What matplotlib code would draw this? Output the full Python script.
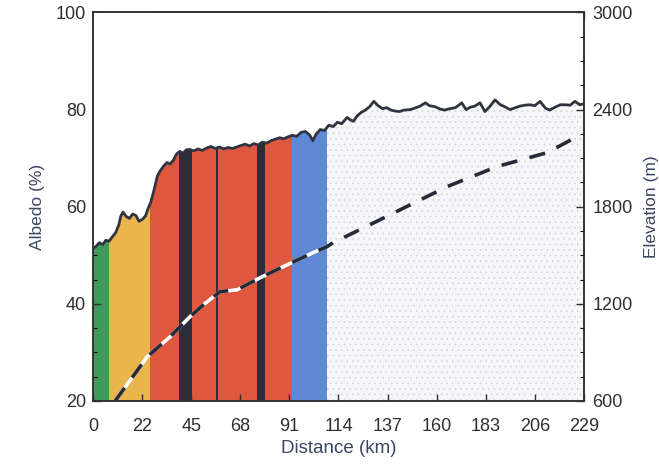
import numpy as np
import matplotlib.pyplot as plt
from matplotlib.ticker import MultipleLocator

plt.rcParams['font.family'] = ['Liberation Sans', 'DejaVu Sans']
plt.rcParams['hatch.linewidth'] = 0.5
plt.rcParams['hatch.color'] = '#d3d5da'

# albedo along the traverse (km, %)
albedo_km = [0, 1.5, 3, 4.5, 6, 7.5, 9, 10.5, 12, 13, 14, 15.5, 17, 18.5, 20, 21.5,
             23, 24.5, 25.5, 27, 28.5, 30, 31.5, 33, 34.5, 36, 37.5, 39, 40.5, 42,
             43.5, 45, 47, 49, 51, 53, 55, 57, 59, 61, 63, 65, 67, 69, 71, 73, 75,
             77, 79, 81, 83, 85, 87, 89, 91, 93, 95, 97, 99, 101, 102.5, 104, 106,
             108, 110, 112, 114, 116, 118.5, 120, 121.5, 123, 125, 127, 129, 131,
             133, 135, 137, 139, 141, 143, 145, 148, 150, 152.5, 155, 157, 159.5,
             162, 164, 166.5, 169, 172, 174, 176, 178, 180.5, 182.8, 185, 187.5,
             190, 192, 194.5, 197, 199, 201, 204, 206, 208.5, 211, 213, 215.5, 218,
             220.5, 222.5, 224.8, 227, 229]
albedo = [51.4, 51.9, 52.6, 52.2, 53.1, 52.9, 53.8, 54.6, 56.2, 58.1, 58.9, 58.0,
          57.6, 58.5, 58.2, 57.0, 57.4, 58.1, 59.4, 61.0, 63.5, 66.3, 67.5, 68.4,
          69.1, 68.8, 69.6, 70.9, 71.4, 71.0, 71.7, 71.8, 71.5, 71.9, 71.6, 72.1,
          72.4, 72.0, 72.3, 71.9, 72.2, 72.0, 72.3, 72.6, 72.9, 72.5, 73.0, 72.7,
          73.3, 73.1, 73.6, 73.9, 74.2, 74.0, 74.4, 74.7, 74.5, 75.3, 75.5, 74.8,
          73.6, 74.9, 75.9, 75.7, 76.8, 76.5, 77.4, 77.1, 78.4, 77.9, 77.6, 78.6,
          79.4, 79.9, 80.6, 81.7, 80.8, 80.2, 80.4, 79.9, 79.7, 79.6, 79.9, 80.0,
          80.3, 80.7, 81.4, 80.8, 80.6, 80.1, 79.9, 80.2, 80.4, 81.4, 80.0, 80.5,
          80.7, 81.4, 79.6, 80.6, 82.0, 81.0, 80.6, 80.0, 80.4, 80.7, 80.9, 81.0,
          80.8, 81.7, 80.3, 79.9, 80.5, 81.0, 81.0, 80.9, 81.7, 81.0, 81.2]

# surface elevation (km, m)
elev_km = [10.3, 18, 25.2, 35.9, 45.2, 52, 59.2, 67.2, 77.9, 90.5, 102.6, 109.1,
           111.9, 133.9, 165.1, 188.4, 211.8, 224.9]
elev_m = [600, 740, 872, 996, 1120, 1200, 1275, 1287, 1361, 1441, 1516, 1553,
          1577, 1720, 1924, 2048, 2134, 2227]

# surface zones (start km, end km, colour); the last one is stippled
zone_start = [0, 7.5, 26.5, 92.7, 109]
zone_end = [7.5, 26.5, 92.7, 109, 229]
zone_color = ['#3f9a5c', '#e9b54c', '#df573e', '#5f88d6', '#f7f7f9']

# dark bands inside the red zone
band_start = [40.1, 76.4]
band_end = [46.0, 80.2]
band_line = 58.0

xticks = np.linspace(0, 229, 11)
xtick_labels = ['0', '22', '45', '68', '91', '114', '137', '160', '183', '206', '229']

text_col = '#2e2e33'
label_col = '#3b4663'

fig = plt.figure(figsize=(6.59, 4.66), dpi=100)
ax = fig.add_axes([0.1411, 0.1395, 0.7451, 0.8337])

for i, (s, e, c) in enumerate(zip(zone_start, zone_end, zone_color)):
    if i == len(zone_color) - 1:
        ax.axvspan(s, e, facecolor=c, hatch='...', lw=0, zorder=1)
    else:
        ax.axvspan(s, e, facecolor=c, lw=0, zorder=1)
for s, e in zip(band_start, band_end):
    ax.axvspan(s, e, facecolor='#2c2d38', lw=0, zorder=1.5)
ax.axvline(band_line, color='#2c2d38', lw=1.4, zorder=1.5)

# blank out everything above the albedo curve
ax.fill_between(albedo_km, albedo, 100, facecolor='white', lw=0, zorder=2)
ax.plot(albedo_km, albedo, color='#2f3440', lw=2.0, zorder=3)

ax.set_xlim(0, 229)
ax.set_ylim(20, 100)
ax.set_xticks(xticks)
ax.set_xticklabels(xtick_labels)
ax.yaxis.set_major_locator(MultipleLocator(20))
ax.yaxis.set_minor_locator(MultipleLocator(5))
ax.tick_params(axis='x', direction='in', length=5, width=1, pad=12, top=True,
               labelsize=13, colors=text_col)
ax.tick_params(axis='y', which='major', direction='in', length=6, width=1, pad=5,
               labelsize=13, colors=text_col)
ax.tick_params(axis='y', which='minor', direction='in', length=3, width=0.8)
ax.set_xlabel('Distance (km)', fontsize=13.5, color=label_col, labelpad=4)
ax.set_ylabel('Albedo (%)', fontsize=12.5, color=label_col, labelpad=8)
for sp in ax.spines.values():
    sp.set_color('#2e2e33')
    sp.set_linewidth(1.1)

ax2 = ax.twinx()
ax2.set_ylim(600, 3000)
ax2.yaxis.set_major_locator(MultipleLocator(600))
ax2.yaxis.set_minor_locator(MultipleLocator(150))
ax2.tick_params(axis='y', which='major', direction='in', length=6, width=1, pad=6,
                labelsize=13, colors=text_col)
ax2.tick_params(axis='y', which='minor', direction='in', length=3, width=0.8)
ax2.set_ylabel('Elevation (m)', fontsize=12.5, color=label_col, labelpad=8)
for sp in ax2.spines.values():
    sp.set_color('#2e2e33')
    sp.set_linewidth(1.1)

# elevation: white underlay over the coloured zones, dark dashes on top
ek = np.array(elev_km)
em = np.array(elev_m)
inside = ek <= 109.1
ax2.plot(ek[inside], em[inside], color='white', lw=2.6, solid_capstyle='butt')
ax2.plot(ek, em, color='#262b3a', lw=2.6, linestyle=(0, (4.5, 3.5)))

fig.savefig('out.png', dpi=100)
